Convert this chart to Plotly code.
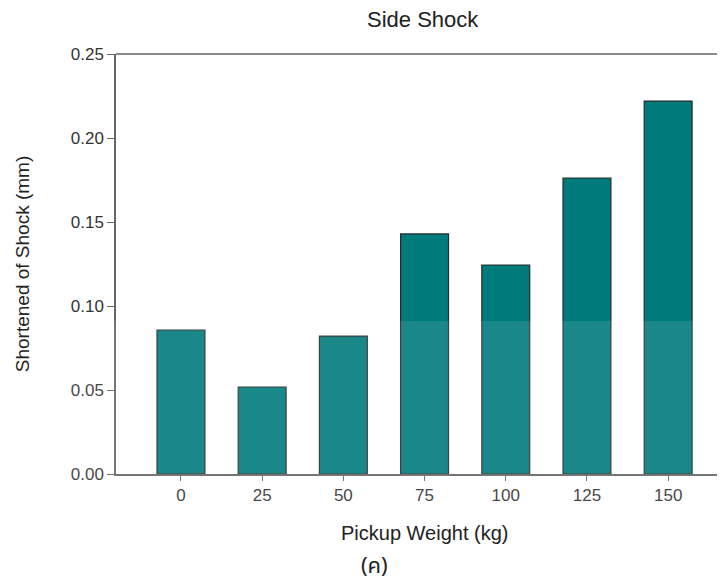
import plotly.graph_objects as go

categories = ["0", "25", "50", "75", "100", "125", "150"]
values = [0.0857, 0.0518, 0.0821, 0.1429, 0.1244, 0.1762, 0.2220]
y_ticks = [0.00, 0.05, 0.10, 0.15, 0.20, 0.25]
y_tick_labels = ["0.00", "0.05", "0.10", "0.15", "0.20", "0.25"]

FONT = "Liberation Sans, Arial, sans-serif"

fig = go.Figure()
fig.add_trace(go.Bar(
    x=categories, y=values,
    marker=dict(color="#007b7b", line=dict(color="#2a2a2a", width=1.2)),
    width=0.59,
))

fig.update_layout(
    width=725, height=585,
    paper_bgcolor="white", plot_bgcolor="white",
    margin=dict(l=108, r=8, t=46, b=119),
    showlegend=False,
    font=dict(family=FONT, color="#333"),
)
fig.update_xaxes(
    range=[-0.8, 6.7], showline=True, linecolor="#666", linewidth=1.5,
    ticks="outside", ticklen=5, tickcolor="#666", tickfont=dict(size=17, color="#333"),
    showgrid=False, zeroline=False, automargin=False,
)
fig.update_yaxes(
    range=[0, 0.25], tickvals=y_ticks, ticktext=y_tick_labels,
    showline=True, linecolor="#666", linewidth=1.5,
    ticks="outside", ticklen=7, tickcolor="#666", tickfont=dict(size=17, color="#333"),
    showgrid=False, zeroline=False, automargin=False,
)
# top border line
fig.add_shape(type="line", xref="paper", yref="paper", x0=0, x1=1, y0=1, y1=1,
              line=dict(color="#666", width=1.5))
# faint lighter wash over the lower part (watermark look)
fig.add_shape(type="rect", xref="paper", yref="paper", x0=-0.2, x1=1.02, y0=-0.3, y1=0.364,
              fillcolor="white", opacity=0.1, line=dict(width=0), layer="above")

fig.add_annotation(text="Side Shock", xref="paper", yref="paper", x=0.504, y=1.081,
                   xanchor="center", yanchor="middle", showarrow=False,
                   font=dict(family=FONT, size=22, color="#222"))
fig.add_annotation(text="Pickup Weight (kg)", xref="paper", yref="paper", x=0.507, y=-0.1405,
                   xanchor="center", yanchor="middle", showarrow=False,
                   font=dict(family=FONT, size=20, color="#222"))
fig.add_annotation(text="Shortened of Shock (mm)", xref="paper", yref="paper", x=-0.154, y=0.5,
                   xanchor="center", yanchor="middle", showarrow=False, textangle=-90,
                   font=dict(family=FONT, size=19, color="#222"))
fig.add_annotation(text="(ค)", xref="paper", yref="paper", x=0.424, y=-0.221,
                   xanchor="center", yanchor="middle", showarrow=False,
                   font=dict(family="Noto Sans Thai, Noto Sans, DejaVu Sans, sans-serif", size=22, color="#222"))

fig.write_html("out.html")
